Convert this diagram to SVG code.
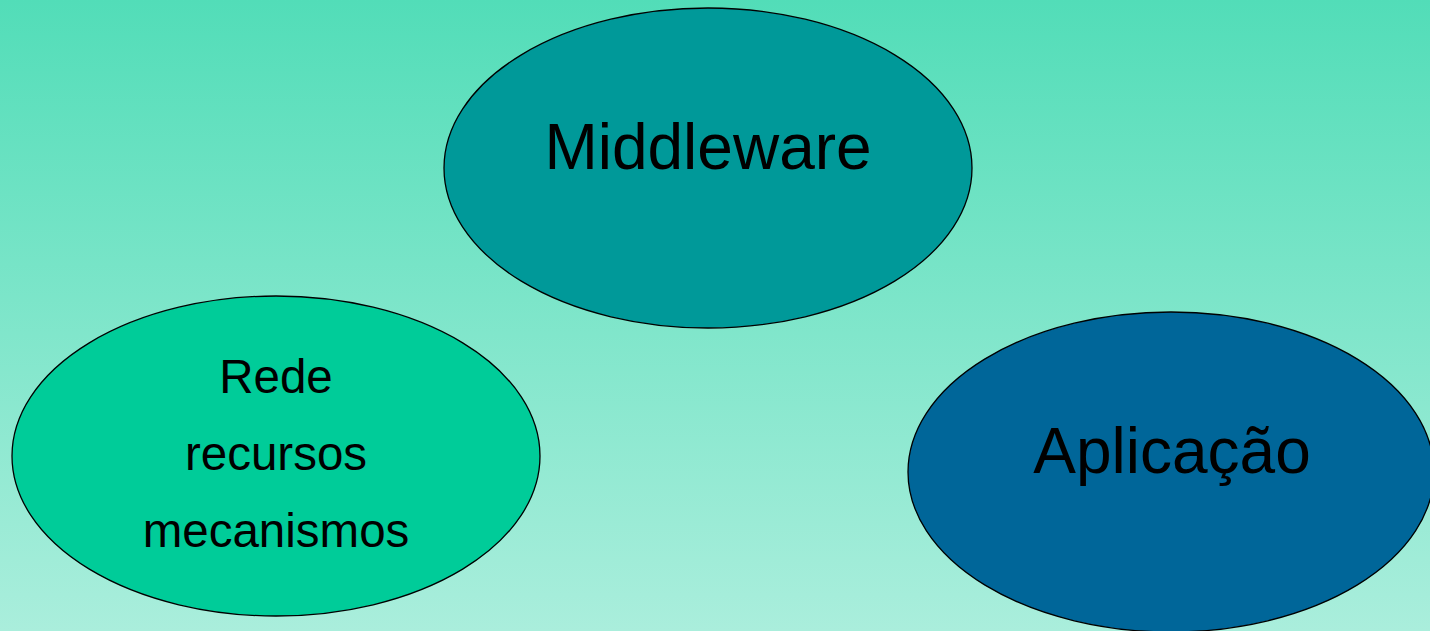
<svg xmlns="http://www.w3.org/2000/svg" width="1430" height="631" viewBox="0 0 1430 631">
<defs>
<linearGradient id="bg" x1="0" y1="0" x2="0" y2="1">
<stop offset="0" stop-color="#52DDB8"/>
<stop offset="1" stop-color="#AAEEDC"/>
</linearGradient>
</defs>
<style>
.node ellipse{stroke:#000;stroke-width:1.3}
text{font-family:"Liberation Sans",Arial,sans-serif;fill:#000;text-anchor:middle}
.big{font-size:64px}
.small{font-size:47.5px}
</style>
<rect width="1430" height="631" fill="url(#bg)"/>
<g id="connectors"/>
<g id="middleware" class="node">
<ellipse cx="708" cy="168" rx="264" ry="160" fill="#009999"/>
<text class="big" x="708" y="169">Middleware</text>
</g>
<g id="rede" class="node">
<ellipse cx="276" cy="456" rx="264" ry="160" fill="#00CC99"/>
<text class="small" x="276" y="393">Rede</text>
<text class="small" x="276" y="470">recursos</text>
<text class="small" x="276" y="547">mecanismos</text>
</g>
<g id="aplicacao" class="node">
<ellipse cx="1171" cy="472" rx="263" ry="160" fill="#006699"/>
<text class="big" x="1172" y="473">Aplicação</text>
</g>
</svg>
